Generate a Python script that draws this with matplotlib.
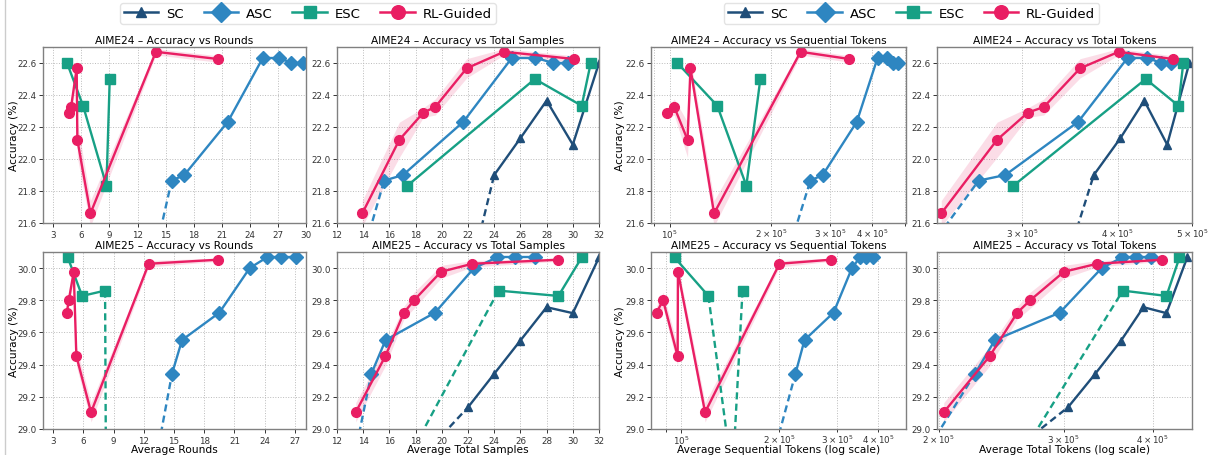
import numpy as np
import matplotlib.pyplot as plt
from matplotlib.lines import Line2D
from matplotlib.ticker import MultipleLocator

# ---------------- data ----------------
# AIME24
a24_sc_samples = [22, 24, 26, 28, 30, 32]
a24_sc_total = [3.36e5, 3.72e5, 4.03e5, 4.33e5, 4.64e5, 4.96e5]
a24_sc_acc = [21.23, 21.90, 22.13, 22.365, 22.09, 22.60]

a24_asc_rounds = [12.3, 15.65, 17.0, 21.65, 25.4, 27.1, 28.45, 29.7]
a24_asc_samples = [12.55, 15.6, 17.04, 21.65, 25.36, 27.14, 28.5, 29.67]
a24_asc_seq = [1.95e5, 2.62e5, 2.85e5, 3.6e5, 4.15e5, 4.42e5, 4.6e5, 4.76e5]
a24_asc_total = [1.94e5, 2.63e5, 2.85e5, 3.55e5, 4.12e5, 4.37e5, 4.55e5, 4.69e5]
a24_asc_acc = [21.0, 21.865, 21.9, 22.233, 22.633, 22.633, 22.6, 22.6]

a24_esc_rounds = [4.47, 6.18, 8.68, 9.03]
a24_esc_samples = [31.37, 30.68, 17.37, 27.1]
a24_esc_seq = [1.054e5, 1.385e5, 1.69e5, 1.86e5]
a24_esc_total = [4.87e5, 4.8e5, 2.92e5, 4.35e5]
a24_esc_acc = [22.6, 22.333, 21.833, 22.5]

a24_rl_rounds = [4.64, 4.9, 5.5, 5.57, 6.97, 13.96, 20.58]
a24_rl_samples = [18.59, 19.5, 21.9, 16.76, 13.93, 24.75, 30.1]
a24_rl_seq = [0.984e5, 1.032e5, 1.153e5, 1.13e5, 1.355e5, 2.45e5, 3.42e5]
a24_rl_total = [3.05e5, 3.2e5, 3.57e5, 2.78e5, 2.35e5, 4.01e5, 4.72e5]
a24_rl_acc = [22.29, 22.325, 22.567, 22.12, 21.66, 22.67, 22.625]
a24_rl_std = [0.03, 0.05, 0.06, 0.11, 0.08, 0.02, 0.02]

# AIME25
a25_sc_samples = [20, 22, 24, 26, 28, 30, 32]
a25_sc_total = [2.71e5, 3.04e5, 3.32e5, 3.61e5, 3.88e5, 4.18e5, 4.47e5]
a25_sc_acc = [28.96, 29.135, 29.343, 29.55, 29.757, 29.72, 30.066]

a25_asc_rounds = [12.3, 14.8, 15.8, 19.5, 22.51, 24.2, 25.62, 27.08]
a25_asc_samples = [12.5, 14.62, 15.71, 19.48, 22.46, 24.2, 25.6, 27.14]
a25_asc_seq = [1.725e5, 2.237e5, 2.385e5, 2.925e5, 3.33e5, 3.52e5, 3.68e5, 3.86e5]
a25_asc_total = [1.71e5, 2.25e5, 2.4e5, 2.96e5, 3.39e5, 3.62e5, 3.79e5, 3.97e5]
a25_asc_acc = [28.5, 29.343, 29.553, 29.723, 30.0, 30.066, 30.066, 30.066]

a25_esc_rounds = [4.46, 5.88, 8.16, 8.25]
a25_esc_samples = [30.68, 28.9, 24.33, 16.65]
a25_esc_seq = [0.956e5, 1.213e5, 1.542e5, 1.437e5]
a25_esc_total = [4.36e5, 4.18e5, 3.63e5, 2.5e5]
a25_esc_acc = [30.066, 29.827, 29.86, 28.7]

a25_rl_rounds = [4.36, 4.56, 5.05, 5.31, 6.77, 12.49, 19.34]
a25_rl_samples = [17.11, 17.88, 19.94, 15.69, 13.43, 22.33, 28.88]
a25_rl_seq = [0.842e5, 0.882e5, 0.979e5, 0.977e5, 1.185e5, 2.0e5, 2.865e5]
a25_rl_total = [2.58e5, 2.69e5, 3.0e5, 2.36e5, 2.034e5, 3.34e5, 4.12e5]
a25_rl_acc = [29.723, 29.8, 29.977, 29.453, 29.104, 30.027, 30.052]
a25_rl_std = [0.04, 0.05, 0.04, 0.06, 0.06, 0.02, 0.01]

methods = ["SC", "ASC", "ESC", "RL-Guided"]
colors = {"SC": "#1F4E79", "ASC": "#2E86C1", "ESC": "#17A085", "RL-Guided": "#E91E63"}
markers = {"SC": "^", "ASC": "D", "ESC": "s", "RL-Guided": "o"}
msizes = {"SC": 5.5, "ASC": 7, "ESC": 6.5, "RL-Guided": 7}

plt.rcParams['font.family'] = ['DejaVu Sans']

W, H = 1217, 456
fig = plt.figure(figsize=(W / 100, H / 100), dpi=100)


def make_ax(l, r, t, b):
    return fig.add_axes([l / W, 1 - b / H, (r - l) / W, (b - t) / H])


def draw(ax, x, acc, ylo, name, std=None):
    x = np.array(x, dtype=float)
    acc = np.array(acc, dtype=float)
    order = np.argsort(x)
    x = x[order]
    acc = acc[order]
    c = colors[name]
    if std is not None:
        s = np.array(std)[order]
        ax.fill_between(x, acc - s, acc + s, color=c, alpha=0.15, lw=0)
    vis = acc >= ylo
    for i in range(len(x) - 1):
        if vis[i] and vis[i + 1]:
            ax.plot(x[i:i + 2], acc[i:i + 2], color=c, lw=1.7, solid_capstyle='round')
        else:
            ax.plot(x[i:i + 2], acc[i:i + 2], color=c, lw=1.7, ls=(0, (3, 1.8)))
    ax.plot(x[vis], acc[vis], ls='none', marker=markers[name], ms=msizes[name], color=c)


def style(ax, ylim, xlim, logx=False):
    ax.set_ylim(*ylim)
    if logx:
        ax.set_xscale('log')
        ax.grid(True, which='both', axis='x', ls=':', color='#bbbbbb', lw=0.7)
        ax.grid(True, which='major', axis='y', ls=':', color='#bbbbbb', lw=0.7)
    else:
        ax.grid(True, ls=':', color='#bbbbbb', lw=0.7)
    ax.set_xlim(*xlim)
    ax.yaxis.set_major_locator(MultipleLocator(0.2))
    ax.tick_params(which='both', labelsize=6.3, colors='#333333', width=0.7, pad=1.8)
    ax.tick_params(which='major', length=3)
    if logx:
        ax.tick_params(axis='x', which='both', pad=0.5)
    for sp in ax.spines.values():
        sp.set_color('#808080')
        sp.set_linewidth(1.0)
    ax.set_axisbelow(True)


lefts = [43, 337, 651, 937]
rights = [306, 599, 906, 1192]
tops = [48, 253]
bottoms = [224, 430]
ylabel_right = [19, None, 625, None]   # pixel x of the y-label's right side

ylims = [(21.6, 22.7), (29.0, 30.1)]
xlims = [
    [(1.9, 30), (12, 32), (0.88e5, 5.04e5), (2.32e5, 5.0e5)],
    [(2.0, 28.1), (12, 32), (0.81e5, 4.87e5), (1.99e5, 4.54e5)],
]

data = [
    {
        "SC": (None, a24_sc_samples, None, a24_sc_total, a24_sc_acc, None),
        "ASC": (a24_asc_rounds, a24_asc_samples, a24_asc_seq, a24_asc_total, a24_asc_acc, None),
        "ESC": (a24_esc_rounds, a24_esc_samples, a24_esc_seq, a24_esc_total, a24_esc_acc, None),
        "RL-Guided": (a24_rl_rounds, a24_rl_samples, a24_rl_seq, a24_rl_total, a24_rl_acc, a24_rl_std),
    },
    {
        "SC": (None, a25_sc_samples, None, a25_sc_total, a25_sc_acc, None),
        "ASC": (a25_asc_rounds, a25_asc_samples, a25_asc_seq, a25_asc_total, a25_asc_acc, None),
        "ESC": (a25_esc_rounds, a25_esc_samples, a25_esc_seq, a25_esc_total, a25_esc_acc, None),
        "RL-Guided": (a25_rl_rounds, a25_rl_samples, a25_rl_seq, a25_rl_total, a25_rl_acc, a25_rl_std),
    },
]

bench = ["AIME24", "AIME25"]
titles = ["Accuracy vs Rounds", "Accuracy vs Total Samples",
          "Accuracy vs Sequential Tokens", "Accuracy vs Total Tokens"]
xlabels = ["Average Rounds", "Average Total Samples",
           "Average Sequential Tokens (log scale)", "Average Total Tokens (log scale)"]

for r in range(2):
    for c in range(4):
        ax = make_ax(lefts[c], rights[c], tops[r], bottoms[r])
        ylo = ylims[r][0]
        for name in methods:
            d = data[r][name]
            x = d[c]
            if x is None:
                continue
            draw(ax, x, d[4], ylo, name, d[5])
        style(ax, ylims[r], xlims[r][c], logx=(c >= 2))
        if c == 0:
            ax.xaxis.set_major_locator(MultipleLocator(3))
        if c == 1:
            ax.xaxis.set_major_locator(MultipleLocator(2))
        ax.set_title(bench[r] + " – " + titles[c], fontsize=7.7, pad=3)
        if r == 1:
            ax.set_xlabel(xlabels[c], fontsize=7.7)
            ax.xaxis.set_label_coords(0.5, -0.086)
        if ylabel_right[c] is not None:
            ax.set_ylabel("Accuracy (%)", fontsize=7.7)
            w = rights[c] - lefts[c]
            ax.yaxis.set_label_coords((ylabel_right[c] - lefts[c]) / w, 0.5)

handles = [Line2D([], [], color=colors[m], marker=markers[m], lw=1.8,
                  ms=msizes[m] * 1.4) for m in methods]
for cx in (0.253, 0.749):
    fig.legend(handles, methods, loc='center', bbox_to_anchor=(cx, 0.968), ncol=4,
               fontsize=9.5, frameon=True, handlelength=2.6, columnspacing=1.5,
               borderpad=0.3, handletextpad=0.6, edgecolor='#dddddd', fancybox=True)

fig.add_artist(Line2D([5 / W, 5 / W], [0, 1], color='#cccccc', lw=1))

fig.savefig("out.png", dpi=100)
